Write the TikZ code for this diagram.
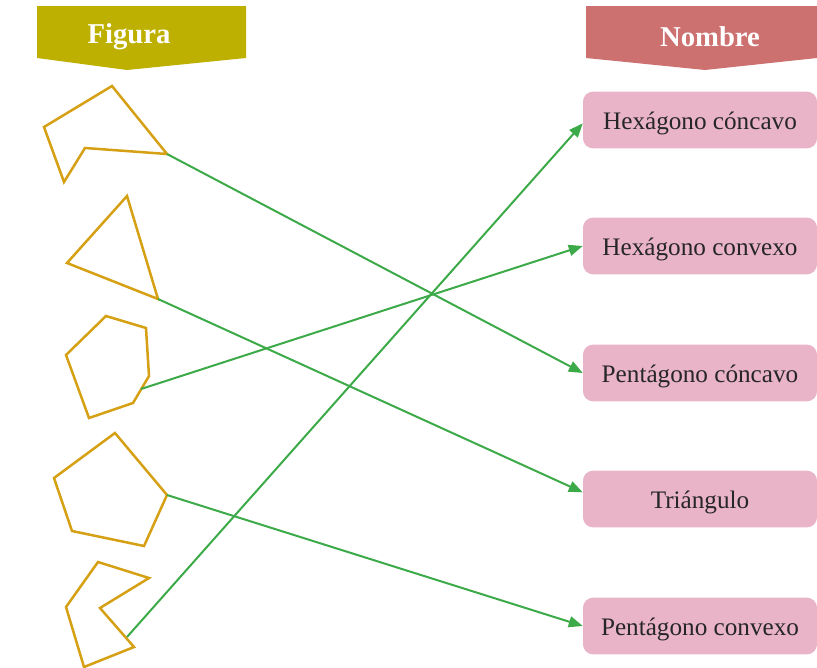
\documentclass[tikz,border=0pt]{standalone}
\usepackage{fontspec}
\setmainfont{Liberation Serif}
\usetikzlibrary{arrows.meta}

\definecolor{olivo}{RGB}{190,176,0}
\definecolor{rojizo}{RGB}{205,112,112}
\definecolor{rosa}{RGB}{234,180,200}
\definecolor{oro}{RGB}{214,160,20}
\definecolor{verde}{RGB}{60,170,72}

\begin{document}
\begin{tikzpicture}[x=0.3mm, y=-0.3mm,
        fig/.style  = {draw=oro, line width=0.75mm, line join=miter},
        nom/.style  = {fill=rosa, rounded corners=3mm, minimum width=70.2mm, minimum height=17mm, text height=6mm, text depth=0.5mm, font=\fontsize{21.5}{25}\selectfont, text=black!85},
        ban/.style  = {font=\fontsize{24.5}{28}\selectfont\bfseries, text=white},
        ar/.style   = {-{Triangle[length=4.2mm, width=3.3mm]}, verde, line width=0.6mm}
    ]
        \useasboundingbox (0,0) rectangle (817,668);

        % cabeceras
        \fill[olivo]  (37,6) -- (246,6) -- (246,58) -- (127,70) -- (37,58) -- cycle;
        \fill[rojizo] (586,6) -- (817,6) -- (817,58) -- (705,70) -- (586,58) -- cycle;
        \node[ban] (tfig) at (129,37)  {Figura};
        \node[ban] (tnom) at (710,37)  {Nombre};

        % figuras
        \draw[fig] (112,86) -- (167,154) -- (85,148) -- (64,182) -- (44,127) -- cycle;
        \draw[fig] (127,196) -- (158,299) -- (67,263) -- cycle;
        \draw[fig] (106,316) -- (146,328) -- (149,376) -- (133,403) -- (89,418) -- (66,355) -- cycle;
        \draw[fig] (115,433) -- (167,495) -- (144,546) -- (72,531) -- (54,478) -- cycle;
        \draw[fig] (98,562) -- (149,578) -- (100,608) -- (134,647) -- (84,667) -- (66,607) -- cycle;

        \coordinate (f1) at (167,154);
        \coordinate (f2) at (158,299);
        \coordinate (f3) at (141,389);
        \coordinate (f4) at (167,495);
        \coordinate (f5) at (127,637);

        % nombres
        \node[nom] (hc) at (700,120) {Hexágono cóncavo};
        \node[nom] (hv) at (700,246) {Hexágono convexo};
        \node[nom] (pc) at (700,373) {Pentágono cóncavo};
        \node[nom] (tr) at (700,499) {Triángulo};
        \node[nom] (pv) at (700,626) {Pentágono convexo};

        \draw[ar] (f1) -- (pc.west);
        \draw[ar] (f2) -- ([yshift=2mm]tr.west);
        \draw[ar] (f3) -- (hv.west);
        \draw[ar] (f4) -- (pv.west);
        \draw[ar] (f5) -- ([yshift=-1mm]hc.west);
    \end{tikzpicture}
\end{document}
